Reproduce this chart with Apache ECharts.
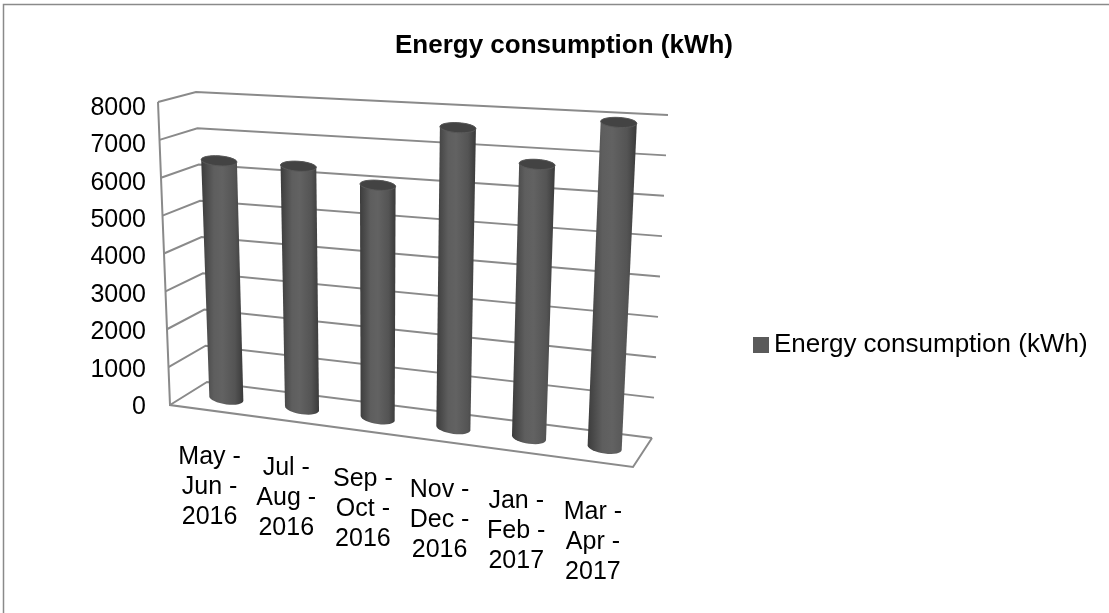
<!DOCTYPE html>
<html>
<head>
<meta charset="utf-8">
<script src="https://cdn.jsdelivr.net/npm/echarts@6/dist/echarts.min.js"></script>
<style>
html,body{margin:0;padding:0;background:#fff;}
#chart{width:1109px;height:613px;}
</style>
</head>
<body>
<div id="chart"></div>
<script>
var categories = ['May -\nJun -\n2016', 'Jul -\nAug -\n2016', 'Sep -\nOct -\n2016', 'Nov -\nDec -\n2016', 'Jan -\nFeb -\n2017', 'Mar -\nApr -\n2017'];
var consumption = [6350, 6350, 6000, 7600, 6800, 7950];
var yTicks = [0, 1000, 2000, 3000, 4000, 5000, 6000, 7000, 8000];
var seriesName = 'Energy consumption (kWh)';

var FONT = '"Liberation Sans", Arial, sans-serif';

// corners of the fake 3D box: front plane and back wall (screen px)
var FRONT = {l0: [170, 405], lt: [158, 102], r0: [633, 467], rt: [650, 130]};
var BACK = {l0: [207, 382], lt: [196, 92], r0: [652, 438], rt: [668, 115]};

function planePt(P, u, t) {
    var a = (1 - u) * (1 - t), b = u * (1 - t), c = (1 - u) * t, e = u * t;
    return [a * P.l0[0] + b * P.r0[0] + c * P.lt[0] + e * P.rt[0],
            a * P.l0[1] + b * P.r0[1] + c * P.lt[1] + e * P.rt[1]];
}
// u: 0..1 across categories, t: 0..1 up the value axis, d: 0 front .. 1 back
function project(u, t, d) {
    var f = planePt(FRONT, u, t), b = planePt(BACK, u, t);
    return [f[0] + (b[0] - f[0]) * d, f[1] + (b[1] - f[1]) * d];
}
function toUT(cs, pt) {
    return [(pt[0] - cs.x) / cs.width, (cs.y + cs.height - pt[1]) / cs.height];
}
function ellipsePts(l, r, ry, from, to, n) {
    var cx = (l[0] + r[0]) / 2, cy = (l[1] + r[1]) / 2;
    var ax = (r[0] - l[0]) / 2, ay = (r[1] - l[1]) / 2;
    var pts = [];
    for (var k = 0; k <= n; k++) {
        var th = from + (to - from) * k / n;
        pts.push([cx + ax * Math.cos(th), cy + ay * Math.cos(th) + ry * Math.sin(th)]);
    }
    return pts;
}

var lineStyle = {stroke: '#8a8a8a', lineWidth: 2, fill: null};

var chart = echarts.init(document.getElementById('chart'));
var option = {
    backgroundColor: '#fff',
    title: {
        text: seriesName,
        left: 390,
        top: 28,
        textStyle: {fontFamily: FONT, fontSize: 26, fontWeight: 'bold', color: '#000'}
    },
    legend: {
        data: [seriesName],
        left: 748,
        top: 325,
        icon: 'rect',
        itemWidth: 16,
        itemHeight: 16,
        itemGap: 5,
        textStyle: {fontFamily: FONT, fontSize: 26, color: '#000', lineHeight: 30}
    },
    graphic: [{
        type: 'rect',
        shape: {x: 3.5, y: 4.5, width: 1120, height: 620},
        style: {fill: null, stroke: '#8a8a8a', lineWidth: 1.5},
        silent: true
    }],
    grid: {left: 158, top: 108, width: 500, height: 299},
    xAxis: {
        type: 'category',
        data: categories,
        show: false
    },
    yAxis: {
        type: 'value',
        min: 0,
        max: 8000,
        interval: 1000,
        axisLine: {show: false},
        axisTick: {show: false},
        splitLine: {show: false},
        axisLabel: {
            fontFamily: FONT, fontSize: 25, color: '#000', margin: 12,
            formatter: function (v) { return String(v); }
        }
    },
    series: [
        {
            name: 'frame',
            type: 'custom',
            z: 1,
            silent: true,
            data: yTicks.map(function (v) { return [0, v]; }),
            renderItem: function (params, api) {
                var cs = params.coordSys;
                var t = toUT(cs, api.coord([0, api.value(1)]))[1];
                var kids = [{
                    type: 'polyline',
                    shape: {points: [project(0, t, 0), project(0, t, 1), project(1, t, 1)]},
                    style: lineStyle
                }];
                if (params.dataIndex === 0) {
                    kids.push({
                        type: 'polyline',
                        shape: {points: [project(0, 1, 0), project(0, 0, 0), project(1, 0, 0), project(1, 0, 1)]},
                        style: lineStyle
                    });
                }
                return {type: 'group', children: kids};
            }
        },
        {
            name: seriesName,
            type: 'custom',
            z: 2,
            itemStyle: {color: '#5a5a5a'},
            data: consumption.map(function (v, i) { return [i, v]; }),
            renderItem: function (params, api) {
                var cs = params.coordSys;
                var i = api.value(0);
                var base = toUT(cs, api.coord([i, 0]));
                var top = toUT(cs, api.coord([i, api.value(1)]));
                var hw = api.size([1, 0])[0] * 0.225 / cs.width;
                var u = base[0], d = 0.5;
                var bL = project(u - hw, base[1], d), bR = project(u + hw, base[1], d);
                var tL = project(u - hw, top[1], d), tR = project(u + hw, top[1], d);

                var body = [tL].concat(ellipsePts(bL, bR, 6, Math.PI, 0, 16))
                    .concat(ellipsePts(tL, tR, 5, 0, -Math.PI, 16));
                var cap = ellipsePts(tL, tR, 5, 0, 2 * Math.PI, 32);
                var lbl = project(u, -0.105, 0);

                return {
                    type: 'group',
                    children: [
                        {
                            type: 'polygon',
                            shape: {points: body},
                            style: {
                                fill: new echarts.graphic.LinearGradient(0, 0, 1, 0, [
                                    {offset: 0, color: '#3c3c3c'},
                                    {offset: 0.3, color: '#5e5e5e'},
                                    {offset: 0.5, color: '#626262'},
                                    {offset: 0.8, color: '#545454'},
                                    {offset: 1, color: '#3a3a3a'}
                                ])
                            }
                        },
                        {
                            type: 'polygon',
                            shape: {points: cap},
                            style: {
                                fill: '#434343',
                                stroke: '#595959',
                                lineWidth: 1
                            }
                        },
                        {
                            type: 'text',
                            x: lbl[0],
                            y: lbl[1],
                            style: {
                                text: categories[params.dataIndex],
                                fontFamily: FONT,
                                fontSize: 25,
                                lineHeight: 30,
                                fill: '#000',
                                align: 'center',
                                verticalAlign: 'top'
                            }
                        }
                    ]
                };
            }
        }
    ]
};
chart.setOption(option);
</script>
</body>
</html>
